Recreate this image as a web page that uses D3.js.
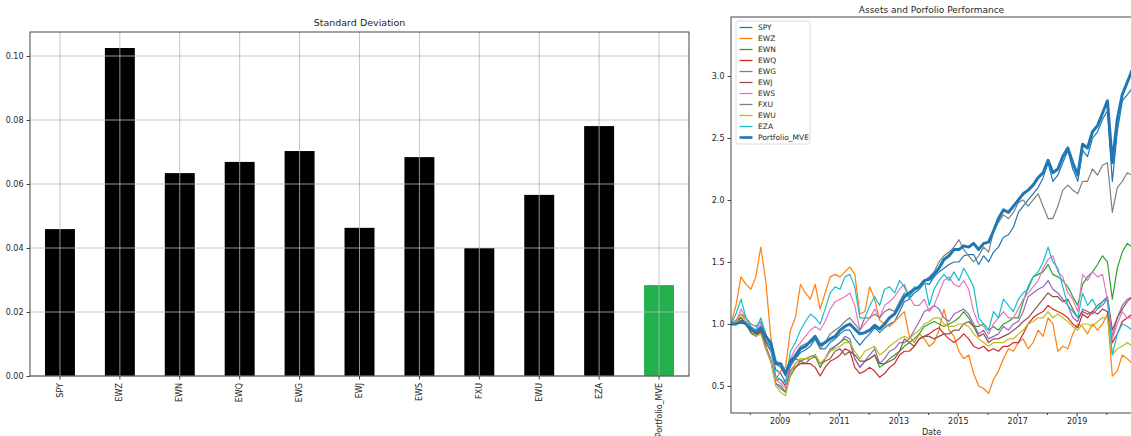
<!DOCTYPE html>
<html>
<head>
<meta charset="utf-8">
<script src="https://cdn.jsdelivr.net/npm/d3@7"></script>
<style>
  body { margin: 0; background: #fff; }
  svg { display: block; font-family: "DejaVu Sans", sans-serif; }
</style>
</head>
<body>
<svg id="chart" width="1131" height="436"></svg>
<script>
// Bar chart: standard deviation per asset
const tickers = ["SPY", "EWZ", "EWN", "EWQ", "EWG", "EWJ", "EWS", "FXU", "EWU", "EZA", "Portfolio_MVE"];
const stdDev = [0.0459, 0.1025, 0.0634, 0.0669, 0.0703, 0.0463, 0.0684, 0.0400, 0.0566, 0.0781, 0.0284];
const stdTicks = [0, 0.02, 0.04, 0.06, 0.08, 0.10];

// Line chart: cumulative performance, one value every 2 months from May 2007, last point end 2020
const spy = [1.00,1.00,1.02,1.00, 0.93,0.90,0.94,0.87,0.80,0.63, 0.60,0.53,0.66,0.72,0.77,0.79,
  0.82,0.88,0.80,0.80,0.85,0.88, 0.92,0.95,0.95,0.88,0.83,0.88, 0.92,0.97,0.93,0.97,1.00,1.02,
  1.10,1.18,1.20,1.25,1.28,1.33, 1.32,1.38,1.42,1.45,1.48,1.50, 1.50,1.55,1.56,1.56,1.48,1.55,
  1.50,1.58,1.62,1.70,1.72,1.78, 1.90,1.95,2.00,2.05,2.10,2.18, 2.30,2.15,2.20,2.30,2.40,2.25,
  2.15,2.40,2.35,2.50,2.55,2.65, 2.72,2.15,2.55,2.80,2.85,2.90,2.95];
const ewz = [1.00,1.15,1.38,1.32, 1.28,1.38,1.62,1.35,0.90,0.55, 0.62,0.65,0.95,1.05,1.32,1.25,
  1.20,1.32,1.12,1.25,1.38,1.40, 1.38,1.42,1.46,1.40,1.08,1.10, 1.30,1.20,1.03,1.00,0.98,1.02,
  1.06,1.10,0.90,0.85,0.92,0.88, 0.82,0.85,0.95,1.12,0.95,0.90, 0.78,0.72,0.75,0.60,0.50,0.48,
  0.44,0.55,0.62,0.72,0.80,0.78, 0.85,0.88,0.80,0.85,0.95,0.90, 1.05,1.00,0.78,0.82,0.80,0.92,
  1.00,0.98,0.92,1.00,0.95,1.00, 1.08,0.58,0.62,0.75,0.72,0.68,0.66];
const ewn = [1.00,1.02,1.05,1.00, 0.95,0.92,0.95,0.82,0.70,0.52, 0.50,0.45,0.58,0.65,0.70,0.72,
  0.72,0.74,0.65,0.72,0.78,0.82, 0.85,0.88,0.85,0.72,0.65,0.70, 0.72,0.75,0.65,0.68,0.72,0.75,
  0.78,0.82,0.85,0.88,0.92,0.98, 1.00,1.02,1.00,0.98,1.00,1.02, 1.05,1.10,1.05,0.98,0.98,1.00,
  0.95,0.98,0.95,1.00,1.02,1.05, 1.05,1.18,1.30,1.38,1.40,1.42, 1.48,1.40,1.38,1.35,1.30,1.22,
  1.15,1.32,1.38,1.42,1.48,1.55, 1.50,1.20,1.45,1.58,1.65,1.62,1.60];
const ewq = [1.00,1.02,1.05,1.00, 0.95,0.92,0.93,0.80,0.70,0.55, 0.55,0.50,0.62,0.65,0.68,0.68,
  0.68,0.65,0.58,0.65,0.70,0.72, 0.75,0.80,0.78,0.65,0.60,0.62, 0.65,0.62,0.57,0.60,0.65,0.68,
  0.75,0.78,0.78,0.82,0.88,0.90, 0.92,0.95,0.97,0.92,0.88,0.85, 0.88,0.92,0.88,0.82,0.80,0.82,
  0.78,0.80,0.78,0.82,0.82,0.85, 0.85,0.92,1.00,1.05,1.08,1.10, 1.15,1.12,1.10,1.08,1.05,1.00,
  0.97,1.08,1.05,1.10,1.08,1.12, 1.10,0.85,0.92,1.02,1.05,1.08,1.05];
const ewg = [1.00,1.03,1.08,1.02, 0.95,0.93,0.95,0.82,0.72,0.52, 0.48,0.45,0.62,0.68,0.72,0.72,
  0.74,0.75,0.68,0.72,0.80,0.82, 0.85,0.90,0.88,0.72,0.65,0.70, 0.75,0.80,0.68,0.72,0.78,0.80,
  0.85,0.85,0.88,0.95,1.02,1.10, 1.12,1.15,1.12,1.05,1.02,1.08, 1.10,1.12,1.08,1.00,0.92,0.95,
  0.88,0.90,0.92,0.98,0.95,1.00, 1.02,1.10,1.22,1.25,1.28,1.30, 1.35,1.28,1.25,1.20,1.15,1.05,
  1.02,1.12,1.10,1.08,1.12,1.15, 1.20,0.90,1.05,1.15,1.20,1.22,1.25];
const ewj = [1.00,1.00,1.03,1.00, 0.93,0.90,0.95,0.85,0.78,0.68, 0.65,0.58,0.68,0.72,0.70,0.68,
  0.72,0.75,0.68,0.70,0.72,0.78, 0.80,0.75,0.78,0.75,0.70,0.70, 0.72,0.75,0.68,0.68,0.70,0.72,
  0.78,0.88,0.85,0.82,0.88,0.90, 0.90,0.88,0.90,0.92,0.92,0.95, 0.95,1.00,1.02,0.98,0.90,0.92,
  0.85,0.88,0.88,0.90,0.92,0.95, 0.98,1.02,1.05,1.10,1.15,1.20, 1.25,1.22,1.22,1.18,1.20,1.12,
  1.05,1.10,1.08,1.10,1.15,1.18, 1.22,0.95,1.05,1.12,1.18,1.22,1.25];
const ews = [1.00,1.02,1.12,1.05, 0.98,0.95,1.00,0.92,0.80,0.55, 0.52,0.48,0.72,0.80,0.85,0.90,
  0.95,0.98,0.95,1.02,1.12,1.18, 1.20,1.22,1.25,1.15,0.95,1.00, 1.05,1.12,1.05,1.15,1.18,1.22,
  1.28,1.32,1.22,1.15,1.15,1.20, 1.10,1.15,1.25,1.35,1.38,1.32, 1.30,1.35,1.28,1.10,1.00,0.98,
  0.92,1.00,1.05,1.10,1.05,1.05, 1.12,1.20,1.25,1.30,1.35,1.45, 1.52,1.55,1.42,1.38,1.25,1.20,
  1.10,1.40,1.35,1.42,1.38,1.40, 1.20,0.88,1.00,1.10,1.05,1.05,1.02];
const fxu = [1.00,1.02,1.08,1.05, 1.00,0.98,1.02,0.92,0.82,0.70, 0.68,0.60,0.70,0.76,0.82,0.84,
  0.85,0.88,0.80,0.85,0.92,0.95, 0.98,1.02,1.05,1.00,0.95,1.05, 1.05,1.08,1.05,1.10,1.12,1.10,
  1.18,1.25,1.22,1.28,1.30,1.35, 1.38,1.42,1.50,1.55,1.58,1.62, 1.68,1.60,1.55,1.50,1.55,1.62,
  1.58,1.75,1.82,1.88,1.85,1.90, 1.98,2.00,1.95,2.00,2.05,1.95, 1.85,1.85,1.95,2.08,2.12,2.08,
  2.05,2.15,2.15,2.25,2.20,2.28, 2.30,1.90,2.10,2.15,2.22,2.20,2.22];
const ewu = [1.00,1.02,1.08,1.02, 0.95,0.90,0.92,0.80,0.70,0.50, 0.45,0.42,0.60,0.68,0.72,0.72,
  0.72,0.75,0.68,0.72,0.78,0.80, 0.82,0.85,0.85,0.78,0.72,0.78, 0.80,0.82,0.75,0.78,0.82,0.85,
  0.88,0.90,0.88,0.92,0.95,1.00, 1.02,1.05,1.05,1.00,0.98,0.98, 1.00,1.00,0.98,0.92,0.88,0.85,
  0.82,0.85,0.85,0.85,0.88,0.88, 0.92,0.95,1.00,1.02,1.05,1.05, 1.10,1.05,1.08,1.05,1.02,0.98,
  0.95,1.00,1.00,0.98,1.02,1.05, 1.05,0.75,0.80,0.82,0.85,0.82,0.85];
const eza = [1.00,1.08,1.20,1.05, 0.98,0.95,1.05,0.92,0.80,0.58, 0.55,0.52,0.78,0.85,0.95,1.02,
  1.08,1.05,1.00,1.12,1.25,1.30, 1.28,1.38,1.40,1.30,1.05,1.05, 1.15,1.22,1.15,1.28,1.30,1.25,
  1.35,1.30,1.20,1.30,1.28,1.35, 1.15,1.28,1.35,1.40,1.35,1.42, 1.35,1.45,1.38,1.30,1.05,1.00,
  0.95,1.10,1.05,1.20,1.15,1.10, 1.20,1.25,1.28,1.38,1.42,1.50, 1.62,1.50,1.45,1.30,1.15,1.10,
  1.05,1.25,1.15,1.20,1.12,1.18, 1.20,0.75,0.92,1.00,0.98,0.95,1.00];
const portfolioMve = [1.00,1.00,1.02,1.00, 0.96,0.93,0.97,0.90,0.85,0.68, 0.68,0.60,0.70,0.74,0.80,0.82,
  0.86,0.90,0.83,0.85,0.88,0.90, 0.95,0.98,1.00,0.96,0.92,0.93, 0.95,0.99,0.96,1.00,1.05,1.08,
  1.15,1.22,1.25,1.28,1.30,1.35, 1.36,1.40,1.45,1.52,1.55,1.60, 1.60,1.63,1.62,1.65,1.60,1.65,
  1.66,1.75,1.85,1.92,1.90,1.95, 2.00,2.05,2.08,2.12,2.18,2.22, 2.32,2.22,2.25,2.35,2.42,2.30,
  2.20,2.45,2.42,2.55,2.60,2.70, 2.80,2.30,2.65,2.85,2.95,3.05,3.15];
const perfTicks = [0.5, 1.0, 1.5, 2.0, 2.5, 3.0];
const yearLabels = [2009, 2011, 2013, 2015, 2017, 2019];
const yearMinor = [2008, 2010, 2012, 2014, 2016, 2018, 2020];

// mid-month dates: May 2007, Jul 2007, ... Nov 2020, then the end of 2020
const dates = d3.timeMonth.every(2).range(new Date(2007, 4, 1), new Date(2020, 11, 1))
  .map(d => new Date(d.getFullYear(), d.getMonth(), 15));
dates.push(new Date(2020, 11, 31));

const series = [
  { name: "SPY", values: spy, color: "#1f77b4", width: 1.2 },
  { name: "EWZ", values: ewz, color: "#ff7f0e", width: 1.2 },
  { name: "EWN", values: ewn, color: "#2ca02c", width: 1.2 },
  { name: "EWQ", values: ewq, color: "#d62728", width: 1.2 },
  { name: "EWG", values: ewg, color: "#9467bd", width: 1.2 },
  { name: "EWJ", values: ewj, color: "#8c564b", width: 1.2 },
  { name: "EWS", values: ews, color: "#e377c2", width: 1.2 },
  { name: "FXU", values: fxu, color: "#7f7f7f", width: 1.2 },
  { name: "EWU", values: ewu, color: "#bcbd22", width: 1.2 },
  { name: "EZA", values: eza, color: "#17becf", width: 1.2 },
  { name: "Portfolio_MVE", values: portfolioMve, color: "#1f77b4", width: 3 }
];

const svg = d3.select("#chart");
const txt = "#262626";
const gridCol = "#b8b8b8";

// ---------- left: bar chart ----------
const L = { left: 30, right: 689, top: 32, bottom: 376 };
const xb = d3.scaleBand().domain(tickers).range([L.left, L.right]).paddingInner(0.5).paddingOuter(0.25);
const yb = d3.scaleLinear().domain([0, 0.1075]).range([L.bottom, L.top]);

const gb = svg.append("g");
gb.selectAll("rect.bar").data(tickers).join("rect")
  .attr("class", "bar")
  .attr("x", d => xb(d))
  .attr("width", xb.bandwidth())
  .attr("y", (d, i) => yb(stdDev[i]))
  .attr("height", (d, i) => yb(0) - yb(stdDev[i]))
  .attr("fill", d => d === "Portfolio_MVE" ? "#22b14c" : "#000");

// grid on top of bars
gb.selectAll("line.hgrid").data(stdTicks).join("line")
  .attr("x1", L.left).attr("x2", L.right)
  .attr("y1", d => yb(d)).attr("y2", d => yb(d))
  .attr("stroke", gridCol).attr("stroke-width", 0.8);
gb.selectAll("line.vgrid").data(tickers).join("line")
  .attr("x1", d => xb(d) + xb.bandwidth() / 2).attr("x2", d => xb(d) + xb.bandwidth() / 2)
  .attr("y1", L.top).attr("y2", L.bottom)
  .attr("stroke", gridCol).attr("stroke-width", 0.8);

gb.append("rect")
  .attr("x", L.left).attr("y", L.top)
  .attr("width", L.right - L.left).attr("height", L.bottom - L.top)
  .attr("fill", "none").attr("stroke", "#444").attr("stroke-width", 1);

gb.append("g").attr("transform", `translate(${L.left},0)`)
  .call(d3.axisLeft(yb).tickValues(stdTicks).tickFormat(d3.format(".2f")).tickSize(3.5).tickPadding(3));
const xAxisL = gb.append("g").attr("transform", `translate(0,${L.bottom})`)
  .call(d3.axisBottom(xb).tickSize(3.5).tickPadding(3));
xAxisL.selectAll("text")
  .attr("transform", "rotate(-90)")
  .attr("text-anchor", "end")
  .attr("x", -7).attr("y", 0).attr("dy", "0.32em");

gb.append("text")
  .attr("x", (L.left + L.right) / 2).attr("y", 26)
  .attr("text-anchor", "middle")
  .attr("font-size", 9.5).attr("fill", txt)
  .text("Standard Deviation");

// ---------- right: line chart ----------
const R = { left: 731, right: 1136, top: 17, bottom: 413 };
const xt = d3.scaleTime().domain([dates[0], dates[dates.length - 1]]).range([R.left, R.right]);
const yt = d3.scaleLinear().domain([0.282, 3.476]).range([R.bottom, R.top]);

const gr = svg.append("g");
svg.append("defs").append("clipPath").attr("id", "plotclip")
  .append("rect").attr("x", R.left).attr("y", R.top)
  .attr("width", R.right - R.left).attr("height", R.bottom - R.top);

const line = d3.line()
  .x((d, i) => xt(dates[i]))
  .y(d => yt(d));

gr.append("g").attr("clip-path", "url(#plotclip)")
  .selectAll("path").data(series).join("path")
  .attr("d", s => line(s.values))
  .attr("fill", "none")
  .attr("stroke", s => s.color)
  .attr("stroke-width", s => s.width)
  .attr("stroke-linejoin", "round");

// spines
gr.append("rect")
  .attr("x", R.left).attr("y", R.top)
  .attr("width", R.right - R.left).attr("height", R.bottom - R.top)
  .attr("fill", "none").attr("stroke", "#444").attr("stroke-width", 1);

gr.append("g").attr("transform", `translate(${R.left},0)`)
  .call(d3.axisLeft(yt).tickValues(perfTicks).tickFormat(d3.format(".1f")).tickSize(3.5).tickPadding(3));
gr.append("g").attr("transform", `translate(0,${R.bottom})`)
  .call(d3.axisBottom(xt).tickValues(yearLabels.map(y => new Date(y, 0, 1)))
    .tickFormat(d3.timeFormat("%Y")).tickSize(3.5).tickPadding(2));
gr.append("g").attr("transform", `translate(0,${R.bottom})`)
  .call(d3.axisBottom(xt).tickValues(yearMinor.map(y => new Date(y, 0, 1)))
    .tickFormat("").tickSize(2));

gr.append("text")
  .attr("x", (R.left + R.right) / 2 - 2).attr("y", 435)
  .attr("text-anchor", "middle")
  .attr("font-size", 8).attr("fill", txt)
  .text("Date");

gr.append("text")
  .attr("x", (R.left + R.right) / 2 - 2).attr("y", 13)
  .attr("text-anchor", "middle")
  .attr("font-size", 9).attr("fill", txt)
  .text("Assets and Porfolio Performance");

// legend
const lg = gr.append("g").attr("transform", "translate(736,21)");
lg.append("rect")
  .attr("width", 74).attr("height", 123).attr("rx", 2)
  .attr("fill", "#fff").attr("fill-opacity", 0.85)
  .attr("stroke", "#d0d0d0").attr("stroke-width", 0.8);
const items = lg.selectAll("g.item").data(series).join("g")
  .attr("class", "item")
  .attr("transform", (d, i) => `translate(0,${6.5 + i * 11})`);
items.append("line")
  .attr("x1", 3.5).attr("x2", 16.5)
  .attr("stroke", d => d.color)
  .attr("stroke-width", d => d.width === 3 ? 2.6 : 1.3);
items.append("text")
  .attr("x", 22).attr("dy", "0.35em")
  .attr("font-size", 7.5).attr("fill", txt)
  .text(d => d.name);

// shared axis styling
svg.selectAll(".domain").remove();
svg.selectAll(".tick line").attr("stroke", "#444");
svg.selectAll(".tick text").attr("font-size", 8).attr("fill", txt).attr("font-family", "DejaVu Sans, sans-serif");
</script>
</body>
</html>
